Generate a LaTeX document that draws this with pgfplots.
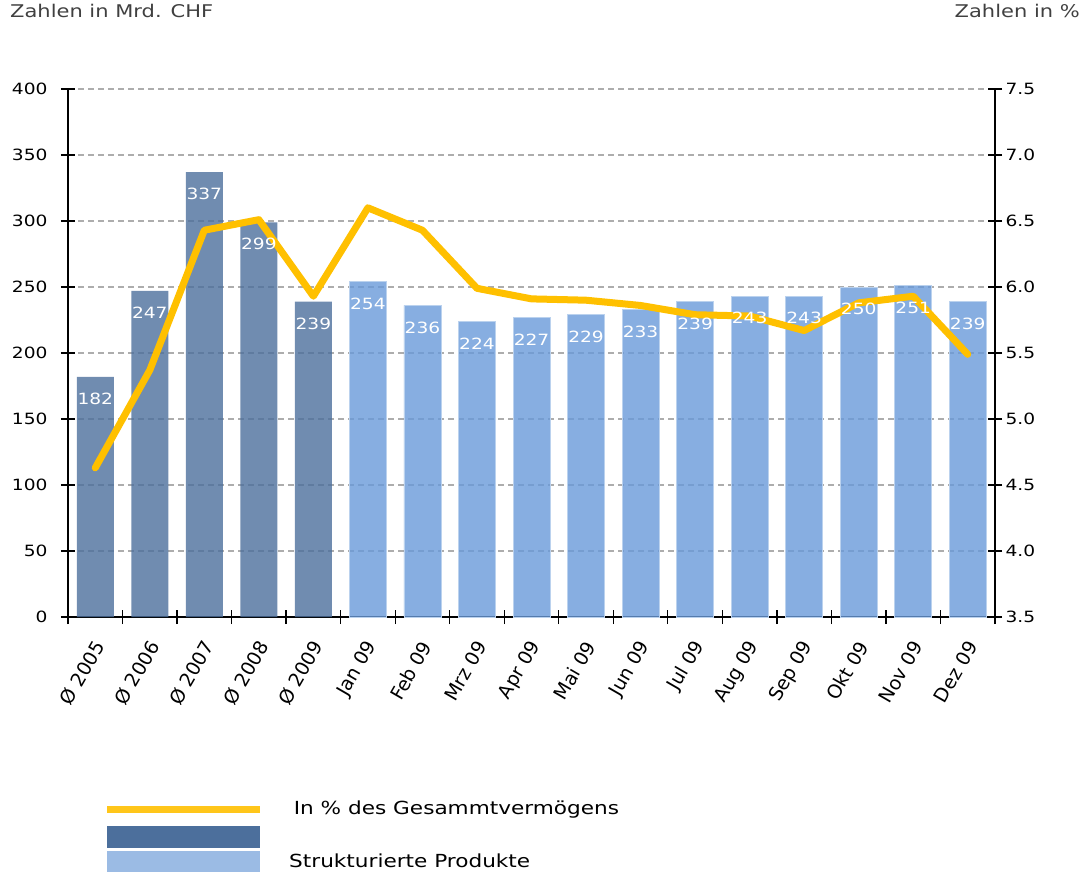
\documentclass[border=0pt]{standalone}
\usepackage{fontspec}
\setmainfont{DejaVu Sans}[FakeStretch=1.2]
\newfontfamily\plainfont{DejaVu Sans}
\usepackage{pgfplots}
\pgfplotsset{compat=1.18}
\definecolor{darkbar}{HTML}{4C6F9C}
\definecolor{lightbar}{HTML}{699AD9}
\definecolor{legdark}{HTML}{4C6F9C}
\definecolor{leglight}{HTML}{9BBBE4}
\definecolor{lineyellow}{HTML}{FFC000}
\definecolor{legyellow}{HTML}{FFC61A}
\definecolor{gridgray}{HTML}{ADADAD}
\definecolor{txtgray}{HTML}{404040}
\pgfplotsset{
  /pgf/number format/assume math mode=true,
  base/.style={
    at={(0,0)}, anchor=south west, scale only axis,
    width=927bp, height=528bp,
    xmin=-0.5, xmax=16.5,
    tick label style={font=\fontsize{15.5bp}{18bp}\selectfont},
  },
}
\begin{document}
\begin{tikzpicture}
\useasboundingbox (-68bp,-255bp) rectangle (1017bp,617bp);
% left axis with bars
\begin{axis}[base,
  ymin=0, ymax=400,
  axis y line*=left, axis x line*=bottom,
  axis line style={line width=1.3bp, -},
  ytick={0,50,...,400},
  yticklabel style={xshift=-10bp},
  ymajorgrids,
  grid style={dash pattern=on 6bp off 4bp, color=gridgray, line width=1.2bp},
  xtick={-0.5,0.5,...,16.5},
  x tick label as interval,
  xticklabels={Ø 2005,Ø 2006,Ø 2007,Ø 2008,Ø 2009,Jan 09,Feb 09,Mrz 09,Apr 09,Mai 09,Jun 09,Jul 09,Aug 09,Sep 09,Okt 09,Nov 09,Dez 09},
  xticklabel style={font=\plainfont\fontsize{19bp}{22bp}\selectfont, xshift=5bp, yshift=-18bp, rotate=60, anchor=east, inner sep=1bp},
  tick align=center, major tick length=14bp,
  tick style={line width=1.3bp, black},
]
\addplot[ybar, bar width=37bp, bar shift=0pt, fill=darkbar, fill opacity=0.8, draw=none]
  coordinates {(0,182)(1,247)(2,337)(3,299)(4,239)};
\addplot[ybar, bar width=37bp, bar shift=0pt, fill=lightbar, fill opacity=0.8, draw=white!55!lightbar, line width=0.8bp]
  coordinates {(5,254)(6,236)(7,224)(8,227)(9,229)(10,233)(11,239)(12,243)(13,243)(14,250)(15,251)(16,239)};
\end{axis}
% right axis with line
\begin{axis}[base,
  ymin=3.5, ymax=7.5,
  axis y line*=right, axis x line=none,
  axis line style={line width=1.3bp, -},
  ytick={3.5,4,...,7.5},
  yticklabel style={/pgf/number format/.cd, fixed, fixed zerofill, precision=1},
  tick align=center, major tick length=14bp,
  tick style={line width=1.3bp, black},
]
\addplot[color=lineyellow, line width=7bp, line join=round, line cap=round, mark=none]
  coordinates {(0,4.63)(1,5.37)(2,6.43)(3,6.51)(4,5.93)(5,6.60)(6,6.43)(7,5.99)(8,5.91)(9,5.90)(10,5.86)(11,5.79)(12,5.78)(13,5.67)(14,5.88)(15,5.93)(16,5.49)};
\end{axis}
% value labels on top
\begin{axis}[base, ymin=0, ymax=400, hide axis,
  every node near coord/.style={anchor=center, yshift=-22bp, text=white,
    font=\fontsize{15.5bp}{18bp}\selectfont},
]
\addplot[draw=none, mark=none, nodes near coords]
  coordinates {(0,182)(1,247)(2,337)(3,299)(4,239)(5,254)(6,236)(7,224)(8,227)(9,229)(10,233)(11,239)(12,243)(13,243)(14,250)(15,251)(16,239)};
\end{axis}
% titles
\node[anchor=base west, inner sep=0, text=txtgray, font=\fontsize{17.5bp}{20bp}\selectfont] at (-58bp,599bp) {Zahlen in Mrd. CHF};
\node[anchor=base east, inner sep=0, text=txtgray, font=\fontsize{17.5bp}{20bp}\selectfont] at (1012bp,599bp) {Zahlen in \%};
% legend
\draw[legyellow, line width=7.5bp] (39bp,-192.7bp) -- (192bp,-192.7bp);
\fill[legdark] (39bp,-231.3bp) rectangle (192bp,-209bp);
\fill[leglight] (39bp,-255bp) rectangle (192bp,-234bp);
\node[anchor=base west, inner sep=0, font=\fontsize{18bp}{21bp}\selectfont] at (225.6bp,-197bp) {In \% des Gesammtvermögens};
\node[anchor=base west, inner sep=0, font=\fontsize{18bp}{21bp}\selectfont] at (221bp,-250bp) {Strukturierte Produkte};
\end{tikzpicture}
\end{document}
